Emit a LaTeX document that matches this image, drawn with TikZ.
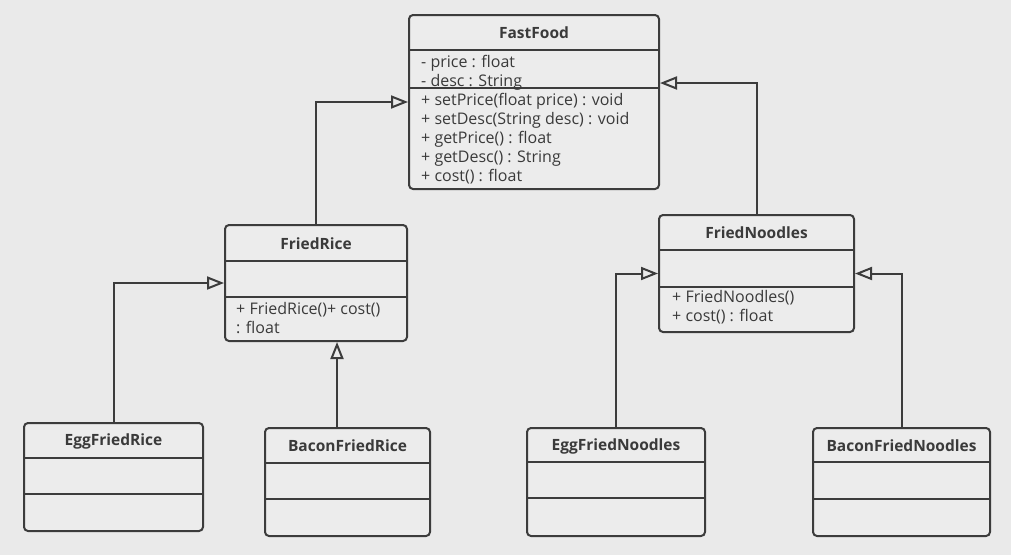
\documentclass[tikz,border=0pt]{standalone}
\usepackage{fontspec}
\setmainfont{Open Sans}
\usepackage{xcolor}
\usetikzlibrary{arrows.meta}

\definecolor{bgcol}{HTML}{EAEAEA}
\definecolor{boxcol}{HTML}{ECECEC}
\definecolor{linecol}{HTML}{3C3C3C}
\definecolor{textcol}{HTML}{3A3A3A}

\begin{document}
\begin{tikzpicture}[x=1pt,y=-1pt]
		\tikzset{
		    umlclass/.style={rectangle,draw=linecol,fill=boxcol,line width=2pt,rounded corners=4pt,inner sep=0pt},
		    classname/.style={font=\fontsize{15.5}{18}\selectfont\bfseries,text=textcol,inner sep=0pt},
		    members/.style={font=\fontsize{16}{19}\selectfont,text=textcol,align=left,anchor=north west,inner sep=0pt},
		    divider/.style={draw=linecol,line width=2pt},
		    inherit/.style={draw=linecol,line width=2pt,-{Triangle[open,length=17pt,width=13pt]}}
		}

		\fill[bgcol] (0,0) rectangle (1011,555);

		% classes
		\node[umlclass,minimum width=250pt,minimum height=174pt] (ff) at (534,102) {};
		\node[umlclass,minimum width=182pt,minimum height=116pt] (fr) at (316,283) {};
		\node[umlclass,minimum width=195pt,minimum height=117pt] (fn) at (756.5,273.5) {};
		\node[umlclass,minimum width=179pt,minimum height=108pt] (efr) at (113.5,477) {};
		\node[umlclass,minimum width=165pt,minimum height=108pt] (bfr) at (347.5,482) {};
		\node[umlclass,minimum width=178pt,minimum height=108pt] (efn) at (616,482) {};
		\node[umlclass,minimum width=177pt,minimum height=108pt] (bfn) at (901.5,482) {};

		% class names
		\node[classname] (ffname) at ([shift=({0,19})]ff.north) {FastFood};
		\node[classname] (frname) at ([shift=({0,20})]fr.north) {FriedRice};
		\node[classname] (fnname) at ([shift=({0,19})]fn.north) {FriedNoodles};
		\node[classname] (efrname) at ([shift=({0,19})]efr.north) {EggFriedRice};
		\node[classname] (bfrname) at ([shift=({0,19})]bfr.north) {BaconFriedRice};
		\node[classname] (efnname) at ([shift=({0,19})]efn.north) {EggFriedNoodles};
		\node[classname] (bfnname) at ([shift=({0,19})]bfn.north) {BaconFriedNoodles};

		% dividers
		\draw[divider] ([shift=({0,36})]ff.north west) -- ([shift=({0,36})]ff.north east);
		\draw[divider] ([shift=({0,74})]ff.north west) -- ([shift=({0,74})]ff.north east);
		\draw[divider] ([shift=({0,37})]fr.north west) -- ([shift=({0,37})]fr.north east);
		\draw[divider] ([shift=({0,73})]fr.north west) -- ([shift=({0,73})]fr.north east);
		\draw[divider] ([shift=({0,36})]fn.north west) -- ([shift=({0,36})]fn.north east);
		\draw[divider] ([shift=({0,73})]fn.north west) -- ([shift=({0,73})]fn.north east);
		\draw[divider] ([shift=({0,36})]efr.north west) -- ([shift=({0,36})]efr.north east);
		\draw[divider] ([shift=({0,72})]efr.north west) -- ([shift=({0,72})]efr.north east);
		\draw[divider] ([shift=({0,36})]bfr.north west) -- ([shift=({0,36})]bfr.north east);
		\draw[divider] ([shift=({0,72})]bfr.north west) -- ([shift=({0,72})]bfr.north east);
		\draw[divider] ([shift=({0,35})]efn.north west) -- ([shift=({0,35})]efn.north east);
		\draw[divider] ([shift=({0,71})]efn.north west) -- ([shift=({0,71})]efn.north east);
		\draw[divider] ([shift=({0,35})]bfn.north west) -- ([shift=({0,35})]bfn.north east);
		\draw[divider] ([shift=({0,72})]bfn.north west) -- ([shift=({0,72})]bfn.north east);

		% members
		\node[members] (ffattr) at ([shift=({13,41})]ff.north west) {- price : float\\- desc : String};
		\node[members] (ffops) at ([shift=({13,79})]ff.north west) {+ setPrice(float price) : void\\+ setDesc(String desc) : void\\+ getPrice() : float\\+ getDesc() : String\\+ cost() : float};
		\node[members] (frops) at ([shift=({12,78})]fr.north west) {+ FriedRice()+ cost()\\: float};
		\node[members] (fnops) at ([shift=({14,76})]fn.north west) {+ FriedNoodles()\\+ cost() : float};

		%edges
		\draw[inherit] (fr.north) |- (ff.west);
		\draw[inherit] (fn.north) |- ([shift=({0,-19})]ff.east);
		\draw[inherit] (efr.north) |- (fr.west);
		\draw[inherit] ([shift=({-10.5,0})]bfr.north) -- ([shift=({-10.5,0})]bfr.north |- fr.south);
		\draw[inherit] (efn.north) |- (fn.west);
		\draw[inherit] (bfn.north) |- (fn.east);

	\end{tikzpicture}
\end{document}
